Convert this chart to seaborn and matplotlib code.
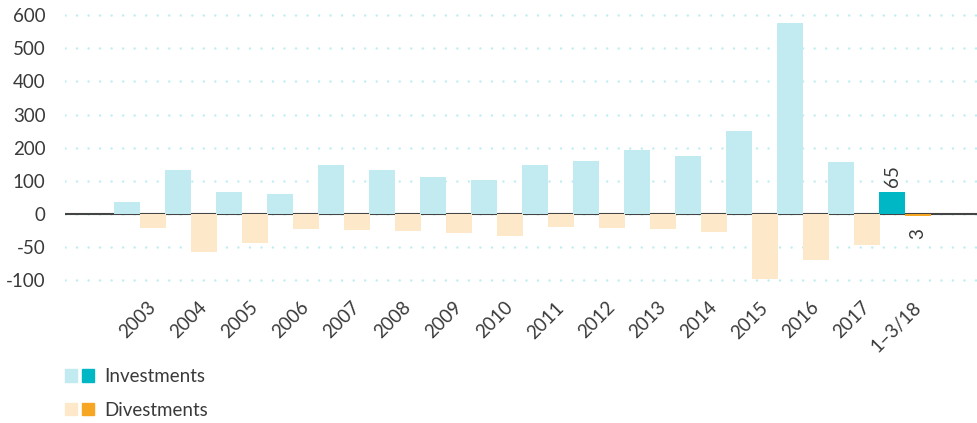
import matplotlib
matplotlib.use("Agg")
import matplotlib.pyplot as plt
import numpy as np
import pandas as pd
import seaborn as sns
from matplotlib.legend_handler import HandlerTuple
from matplotlib.patches import Patch
from matplotlib.transforms import ScaledTranslation

# Data
periods = ["2003", "2004", "2005", "2006", "2007", "2008", "2009", "2010",
           "2011", "2012", "2013", "2014", "2015", "2016", "2017", "1–3/18"]
investments = [36, 132, 66, 60, 147, 132, 111, 102, 147, 160, 193, 175, 250, 575, 157, 65]
divestments = [-21, -57, -44, -23, -24, -26, -29, -33, -20, -21, -23, -27, -98, -70, -47, -3]
y_ticks = [-100, -50, 0, 100, 200, 300, 400, 500, 600]

inv_light, inv_dark = "#c1ebf0", "#00b8c5"
div_light, div_dark = "#fde8c9", "#f7a623"
text_col = "#3a3a3a"
fs = 13.5

df = pd.DataFrame({"period": periods, "Investments": investments, "Divestments": divestments})
df = df.melt(id_vars="period", var_name="type", value_name="value")

sns.set_style("white")
plt.rcParams["font.family"] = ["Lato", "DejaVu Sans"]
plt.rcParams["text.color"] = text_col

fig = plt.figure(figsize=(9.77, 4.23), dpi=100)
ax = fig.add_axes([0.0665, 0.330, 0.9335, 0.638])

sns.barplot(data=df, x="period", y="value", hue="type",
            palette=[inv_light, div_light], width=1.02, gap=0,
            saturation=1, legend=False, ax=ax)

# last period highlighted
ax.containers[0].patches[-1].set_facecolor(inv_dark)
ax.containers[1].patches[-1].set_facecolor(div_dark)
for p in ax.patches:
    p.set_edgecolor("none")
    p.set_zorder(2)


# negative side of the axis is stretched 2x
def fwd(y):
    y = np.asarray(y, dtype=float)
    return np.where(y < 0, 2 * y, y)


def inv(y):
    y = np.asarray(y, dtype=float)
    return np.where(y < 0, y / 2, y)


ax.set_yscale("function", functions=(fwd, inv))
ax.set_ylim(-105, 605)
ax.set_xlim(-1.47, 16.41)
ax.set_yticks(y_ticks)
ax.set_yticklabels([str(t) for t in y_ticks])

ax.grid(axis="y", color="#bfeef2", linewidth=1.8, linestyle=(0, (0.01, 4.6)),
        dash_capstyle="round")
ax.grid(axis="x", visible=False)
ax.set_axisbelow(True)
ax.axhline(0, color="#444444", linewidth=1.5, zorder=1.5)

for s in ax.spines.values():
    s.set_visible(False)
ax.set_xlabel("")
ax.set_ylabel("")
ax.tick_params(axis="y", length=0, pad=14, labelsize=fs, labelcolor=text_col)
ax.tick_params(axis="x", length=0, pad=11, labelsize=fs, labelcolor=text_col)

for lab in ax.get_xticklabels():
    lab.set_rotation(45)
    lab.set_ha("right")
    lab.set_va("top")
    lab.set_rotation_mode("anchor")
    lab.set_transform(lab.get_transform() + ScaledTranslation(0.07, 0, fig.dpi_scale_trans))

# value labels on the highlighted bars
n = len(periods)
ax.bar_label(ax.containers[0], labels=[""] * (n - 1) + [str(investments[-1])],
             rotation=90, padding=4, fontsize=fs, color=text_col)
ax.bar_label(ax.containers[1], labels=[""] * (n - 1) + [str(abs(divestments[-1]))],
             rotation=90, padding=9, fontsize=fs, color=text_col)

handles = [(Patch(color=inv_light), Patch(color=inv_dark)),
           (Patch(color=div_light), Patch(color=div_dark))]
fig.legend(handles, ["Investments", "Divestments"],
           handler_map={tuple: HandlerTuple(ndivide=None, pad=0.27)},
           loc="upper left", bbox_to_anchor=(0.0665, 0.13), frameon=False,
           borderpad=0, borderaxespad=0, handlelength=1.55, handleheight=0.64,
           handletextpad=0.53, labelspacing=0.88, fontsize=fs)

fig.savefig("out.png", dpi=100)
